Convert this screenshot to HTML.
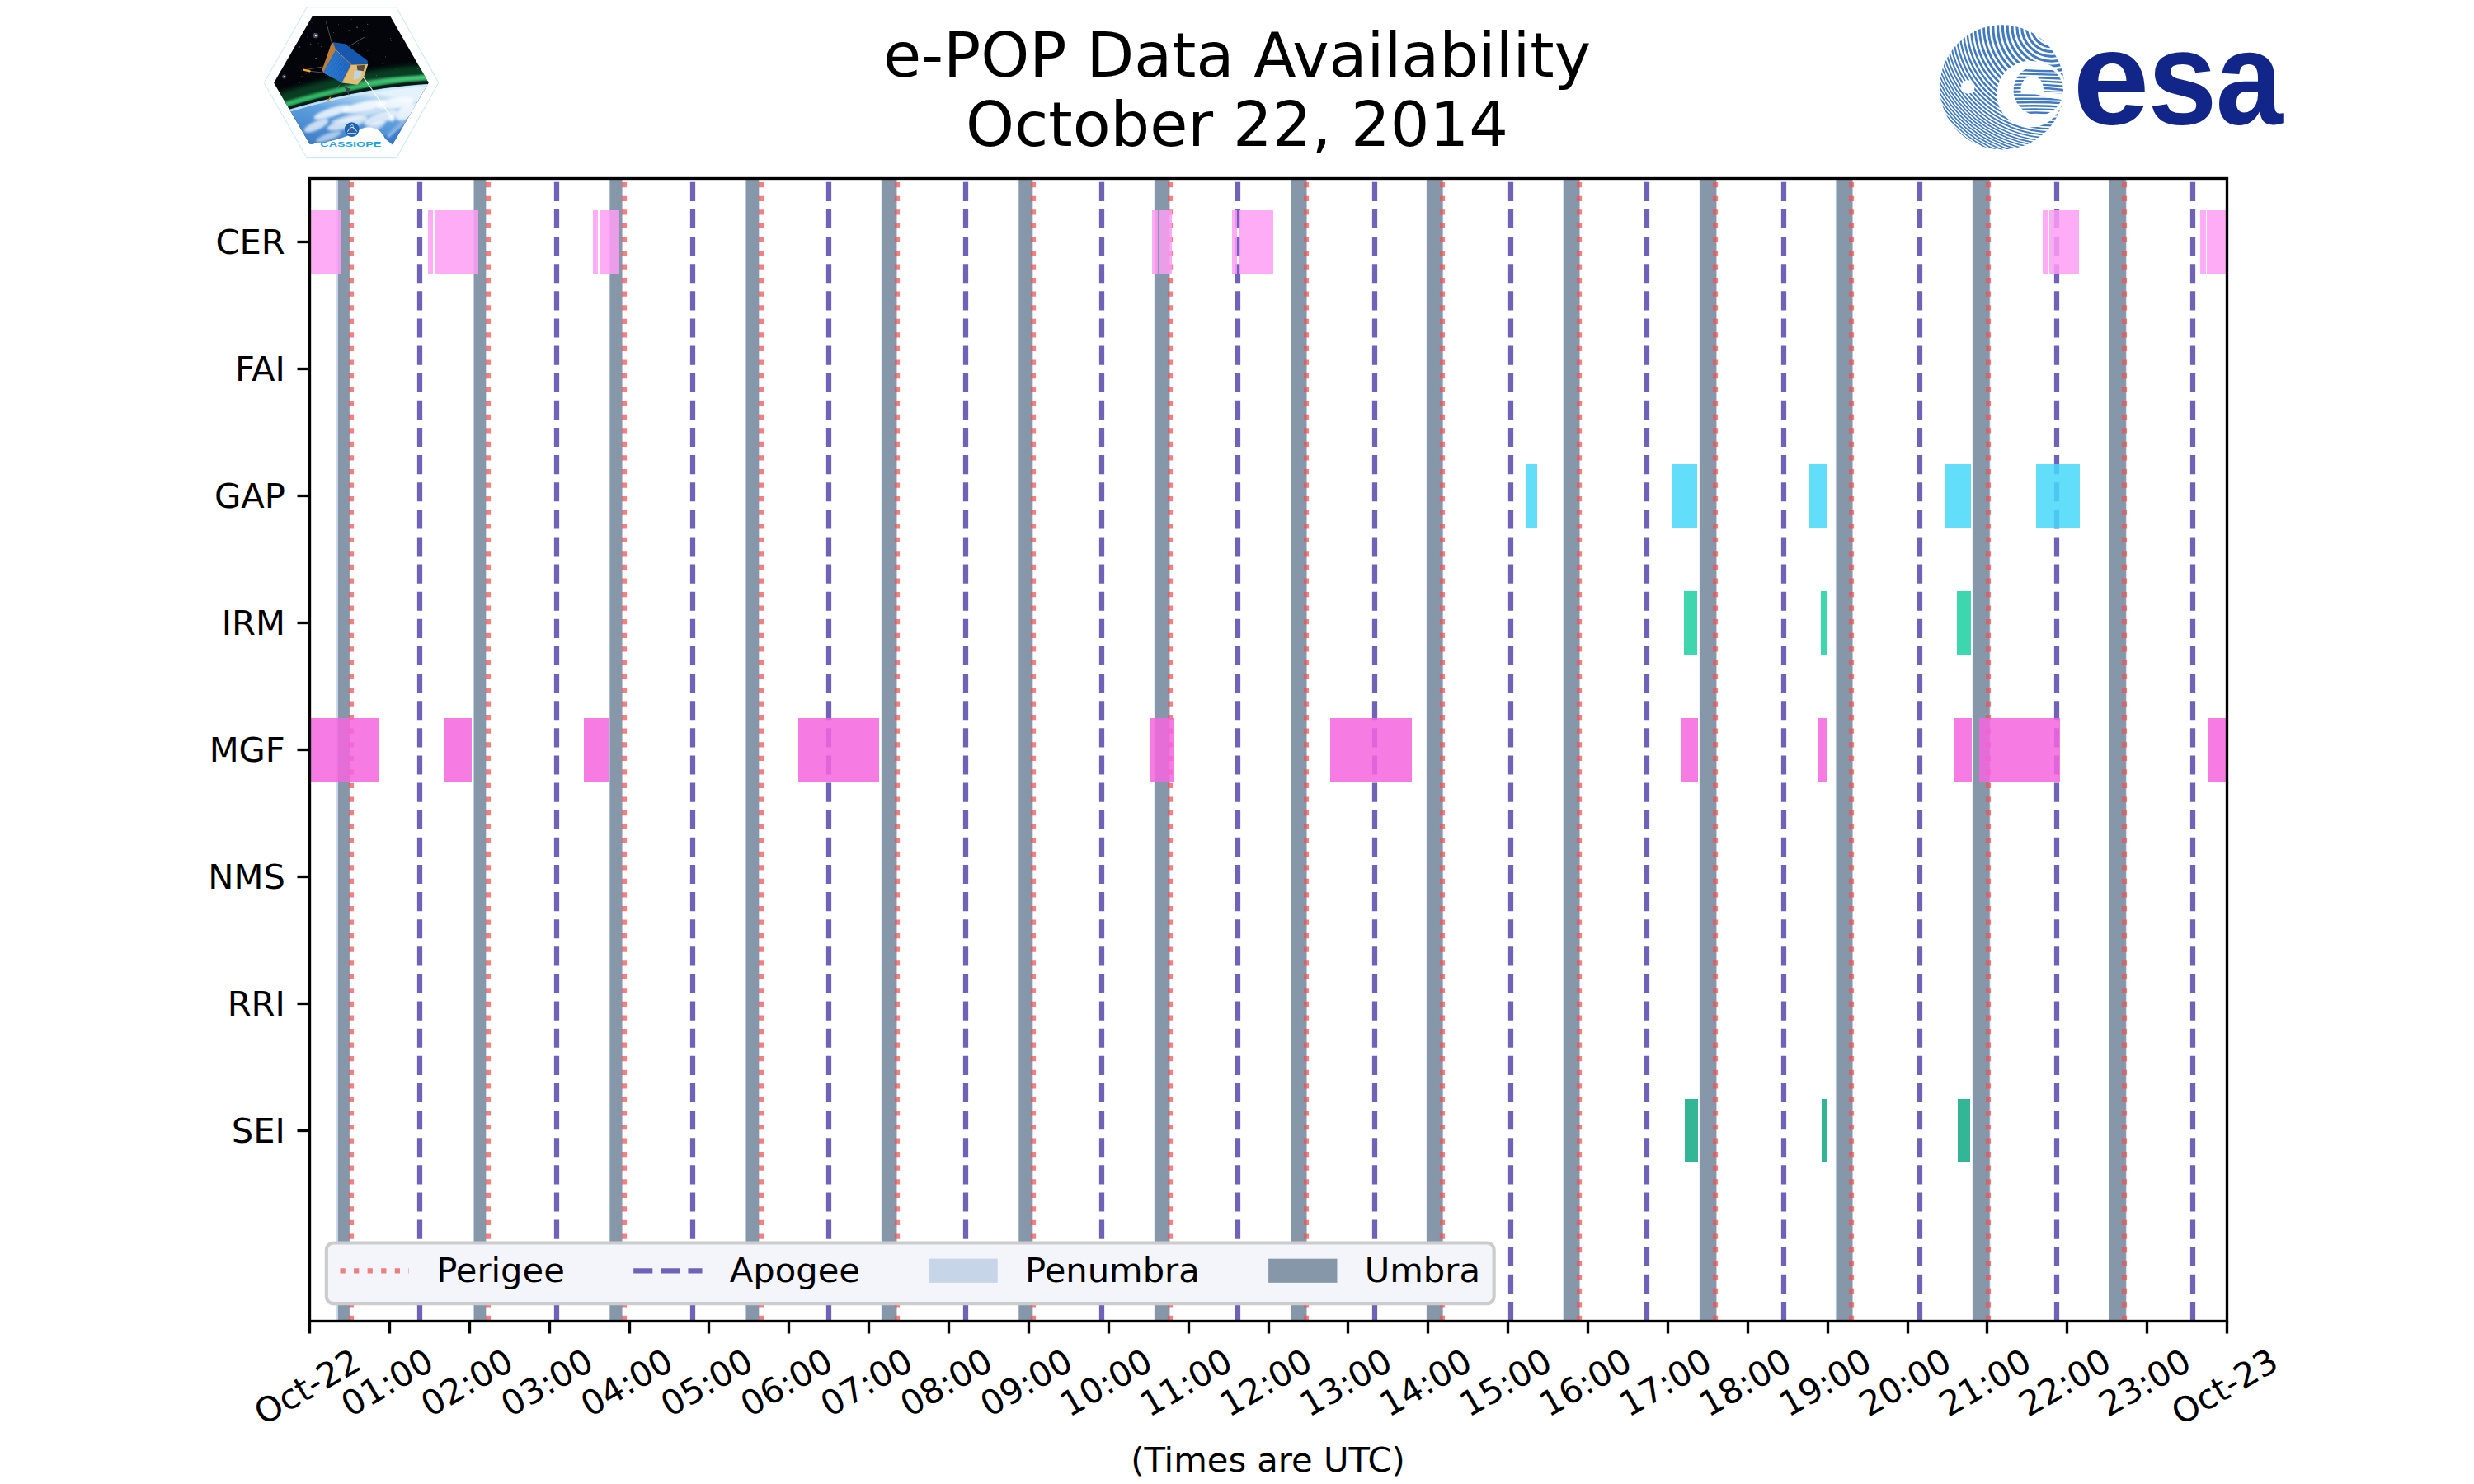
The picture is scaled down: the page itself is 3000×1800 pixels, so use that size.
<!DOCTYPE html>
<html><head><meta charset="utf-8"><title>e-POP Data Availability</title>
<style>html,body{margin:0;padding:0;background:#fff}body{width:3000px;height:1800px;overflow:hidden}</style></head>
<body>
<svg width="3000" height="1800" viewBox="0 0 3000 1800" style="display:block">
<rect x="0" y="0" width="3000" height="1800" fill="#fff"/>
<clipPath id="ax"><rect x="375.0" y="216.0" width="2325.0" height="1386.0"/></clipPath>
<g clip-path="url(#ax)">
<rect x="408.10" y="216.0" width="16.70" height="1386.0" fill="rgb(198,213,232)"/>
<rect x="573.90" y="216.0" width="15.90" height="1386.0" fill="rgb(198,213,232)"/>
<rect x="738.60" y="216.0" width="16.40" height="1386.0" fill="rgb(198,213,232)"/>
<rect x="903.80" y="216.0" width="17.00" height="1386.0" fill="rgb(198,213,232)"/>
<rect x="1068.60" y="216.0" width="19.30" height="1386.0" fill="rgb(198,213,232)"/>
<rect x="1234.50" y="216.0" width="18.30" height="1386.0" fill="rgb(198,213,232)"/>
<rect x="1399.70" y="216.0" width="19.20" height="1386.0" fill="rgb(198,213,232)"/>
<rect x="1565.00" y="216.0" width="20.00" height="1386.0" fill="rgb(198,213,232)"/>
<rect x="1729.70" y="216.0" width="20.50" height="1386.0" fill="rgb(198,213,232)"/>
<rect x="1895.30" y="216.0" width="20.70" height="1386.0" fill="rgb(198,213,232)"/>
<rect x="2060.70" y="216.0" width="21.20" height="1386.0" fill="rgb(198,213,232)"/>
<rect x="2225.80" y="216.0" width="21.20" height="1386.0" fill="rgb(198,213,232)"/>
<rect x="2391.70" y="216.0" width="21.70" height="1386.0" fill="rgb(198,213,232)"/>
<rect x="2556.90" y="216.0" width="21.80" height="1386.0" fill="rgb(198,213,232)"/>
<rect x="410.00" y="216.0" width="13.80" height="1386.0" fill="rgb(134,151,170)"/>
<rect x="574.90" y="216.0" width="14.10" height="1386.0" fill="rgb(134,151,170)"/>
<rect x="739.60" y="216.0" width="14.60" height="1386.0" fill="rgb(134,151,170)"/>
<rect x="904.80" y="216.0" width="15.20" height="1386.0" fill="rgb(134,151,170)"/>
<rect x="1069.60" y="216.0" width="17.50" height="1386.0" fill="rgb(134,151,170)"/>
<rect x="1235.50" y="216.0" width="16.50" height="1386.0" fill="rgb(134,151,170)"/>
<rect x="1400.70" y="216.0" width="17.40" height="1386.0" fill="rgb(134,151,170)"/>
<rect x="1566.00" y="216.0" width="18.20" height="1386.0" fill="rgb(134,151,170)"/>
<rect x="1730.70" y="216.0" width="18.70" height="1386.0" fill="rgb(134,151,170)"/>
<rect x="1896.30" y="216.0" width="18.90" height="1386.0" fill="rgb(134,151,170)"/>
<rect x="2061.70" y="216.0" width="19.40" height="1386.0" fill="rgb(134,151,170)"/>
<rect x="2226.80" y="216.0" width="19.40" height="1386.0" fill="rgb(134,151,170)"/>
<rect x="2392.70" y="216.0" width="19.90" height="1386.0" fill="rgb(134,151,170)"/>
<rect x="2557.90" y="216.0" width="20.00" height="1386.0" fill="rgb(134,151,170)"/>
<line x1="426" y1="1602.0" x2="426" y2="216.0" stroke="rgb(234,84,84)" stroke-opacity="0.73" stroke-width="6.25" stroke-dasharray="6.250 10.312"/>
<line x1="592" y1="1602.0" x2="592" y2="216.0" stroke="rgb(234,84,84)" stroke-opacity="0.73" stroke-width="6.25" stroke-dasharray="6.250 10.312"/>
<line x1="757" y1="1602.0" x2="757" y2="216.0" stroke="rgb(234,84,84)" stroke-opacity="0.73" stroke-width="6.25" stroke-dasharray="6.250 10.312"/>
<line x1="923" y1="1602.0" x2="923" y2="216.0" stroke="rgb(234,84,84)" stroke-opacity="0.73" stroke-width="6.25" stroke-dasharray="6.250 10.312"/>
<line x1="1088" y1="1602.0" x2="1088" y2="216.0" stroke="rgb(234,84,84)" stroke-opacity="0.73" stroke-width="6.25" stroke-dasharray="6.250 10.312"/>
<line x1="1253" y1="1602.0" x2="1253" y2="216.0" stroke="rgb(234,84,84)" stroke-opacity="0.73" stroke-width="6.25" stroke-dasharray="6.250 10.312"/>
<line x1="1419" y1="1602.0" x2="1419" y2="216.0" stroke="rgb(234,84,84)" stroke-opacity="0.73" stroke-width="6.25" stroke-dasharray="6.250 10.312"/>
<line x1="1584" y1="1602.0" x2="1584" y2="216.0" stroke="rgb(234,84,84)" stroke-opacity="0.73" stroke-width="6.25" stroke-dasharray="6.250 10.312"/>
<line x1="1749" y1="1602.0" x2="1749" y2="216.0" stroke="rgb(234,84,84)" stroke-opacity="0.73" stroke-width="6.25" stroke-dasharray="6.250 10.312"/>
<line x1="1915" y1="1602.0" x2="1915" y2="216.0" stroke="rgb(234,84,84)" stroke-opacity="0.73" stroke-width="6.25" stroke-dasharray="6.250 10.312"/>
<line x1="2080" y1="1602.0" x2="2080" y2="216.0" stroke="rgb(234,84,84)" stroke-opacity="0.73" stroke-width="6.25" stroke-dasharray="6.250 10.312"/>
<line x1="2245" y1="1602.0" x2="2245" y2="216.0" stroke="rgb(234,84,84)" stroke-opacity="0.73" stroke-width="6.25" stroke-dasharray="6.250 10.312"/>
<line x1="2411" y1="1602.0" x2="2411" y2="216.0" stroke="rgb(234,84,84)" stroke-opacity="0.73" stroke-width="6.25" stroke-dasharray="6.250 10.312"/>
<line x1="2576" y1="1602.0" x2="2576" y2="216.0" stroke="rgb(234,84,84)" stroke-opacity="0.73" stroke-width="6.25" stroke-dasharray="6.250 10.312"/>
<line x1="509" y1="1602.0" x2="509" y2="216.0" stroke="rgb(113,98,185)" stroke-width="6.25" stroke-dasharray="23.125 10.000"/>
<line x1="675" y1="1602.0" x2="675" y2="216.0" stroke="rgb(113,98,185)" stroke-width="6.25" stroke-dasharray="23.125 10.000"/>
<line x1="840" y1="1602.0" x2="840" y2="216.0" stroke="rgb(113,98,185)" stroke-width="6.25" stroke-dasharray="23.125 10.000"/>
<line x1="1005" y1="1602.0" x2="1005" y2="216.0" stroke="rgb(113,98,185)" stroke-width="6.25" stroke-dasharray="23.125 10.000"/>
<line x1="1171" y1="1602.0" x2="1171" y2="216.0" stroke="rgb(113,98,185)" stroke-width="6.25" stroke-dasharray="23.125 10.000"/>
<line x1="1336" y1="1602.0" x2="1336" y2="216.0" stroke="rgb(113,98,185)" stroke-width="6.25" stroke-dasharray="23.125 10.000"/>
<line x1="1501" y1="1602.0" x2="1501" y2="216.0" stroke="rgb(113,98,185)" stroke-width="6.25" stroke-dasharray="23.125 10.000"/>
<line x1="1667" y1="1602.0" x2="1667" y2="216.0" stroke="rgb(113,98,185)" stroke-width="6.25" stroke-dasharray="23.125 10.000"/>
<line x1="1832" y1="1602.0" x2="1832" y2="216.0" stroke="rgb(113,98,185)" stroke-width="6.25" stroke-dasharray="23.125 10.000"/>
<line x1="1997" y1="1602.0" x2="1997" y2="216.0" stroke="rgb(113,98,185)" stroke-width="6.25" stroke-dasharray="23.125 10.000"/>
<line x1="2163" y1="1602.0" x2="2163" y2="216.0" stroke="rgb(113,98,185)" stroke-width="6.25" stroke-dasharray="23.125 10.000"/>
<line x1="2328" y1="1602.0" x2="2328" y2="216.0" stroke="rgb(113,98,185)" stroke-width="6.25" stroke-dasharray="23.125 10.000"/>
<line x1="2494" y1="1602.0" x2="2494" y2="216.0" stroke="rgb(113,98,185)" stroke-width="6.25" stroke-dasharray="23.125 10.000"/>
<line x1="2659" y1="1602.0" x2="2659" y2="216.0" stroke="rgb(113,98,185)" stroke-width="6.25" stroke-dasharray="23.125 10.000"/>
<rect x="375.00" y="255.00" width="39.00" height="77.00" fill="rgb(254,157,244)" fill-opacity="0.85"/>
<rect x="519.00" y="255.00" width="6.00" height="77.00" fill="rgb(254,157,244)" fill-opacity="0.85"/>
<rect x="527.00" y="255.00" width="53.00" height="77.00" fill="rgb(254,157,244)" fill-opacity="0.85"/>
<rect x="719.00" y="255.00" width="6.00" height="77.00" fill="rgb(254,157,244)" fill-opacity="0.85"/>
<rect x="727.00" y="255.00" width="24.00" height="77.00" fill="rgb(254,157,244)" fill-opacity="0.85"/>
<rect x="1397.00" y="255.00" width="7.00" height="77.00" fill="rgb(254,157,244)" fill-opacity="0.85"/>
<rect x="1405.00" y="255.00" width="16.00" height="77.00" fill="rgb(254,157,244)" fill-opacity="0.85"/>
<rect x="1494.00" y="255.00" width="6.00" height="77.00" fill="rgb(254,157,244)" fill-opacity="0.85"/>
<rect x="1502.00" y="255.00" width="42.00" height="77.00" fill="rgb(254,157,244)" fill-opacity="0.85"/>
<rect x="2477.00" y="255.00" width="7.00" height="77.00" fill="rgb(254,157,244)" fill-opacity="0.85"/>
<rect x="2485.00" y="255.00" width="36.00" height="77.00" fill="rgb(254,157,244)" fill-opacity="0.85"/>
<rect x="2668.00" y="255.00" width="7.00" height="77.00" fill="rgb(254,157,244)" fill-opacity="0.85"/>
<rect x="2676.00" y="255.00" width="24.00" height="77.00" fill="rgb(254,157,244)" fill-opacity="0.85"/>
<rect x="1850.00" y="563.00" width="14.00" height="77.00" fill="rgb(70,216,249)" fill-opacity="0.85"/>
<rect x="2028.00" y="563.00" width="30.00" height="77.00" fill="rgb(70,216,249)" fill-opacity="0.85"/>
<rect x="2194.00" y="563.00" width="22.00" height="77.00" fill="rgb(70,216,249)" fill-opacity="0.85"/>
<rect x="2359.00" y="563.00" width="31.00" height="77.00" fill="rgb(70,216,249)" fill-opacity="0.85"/>
<rect x="2469.00" y="563.00" width="53.00" height="77.00" fill="rgb(70,216,249)" fill-opacity="0.85"/>
<rect x="2042.00" y="717.00" width="16.00" height="77.00" fill="rgb(28,207,160)" fill-opacity="0.85"/>
<rect x="2208.00" y="717.00" width="8.00" height="77.00" fill="rgb(28,207,160)" fill-opacity="0.85"/>
<rect x="2373.00" y="717.00" width="17.00" height="77.00" fill="rgb(28,207,160)" fill-opacity="0.85"/>
<rect x="375.00" y="871.00" width="84.00" height="77.00" fill="rgb(244,101,223)" fill-opacity="0.85"/>
<rect x="538.00" y="871.00" width="34.00" height="77.00" fill="rgb(244,101,223)" fill-opacity="0.85"/>
<rect x="708.00" y="871.00" width="30.00" height="77.00" fill="rgb(244,101,223)" fill-opacity="0.85"/>
<rect x="968.00" y="871.00" width="98.00" height="77.00" fill="rgb(244,101,223)" fill-opacity="0.85"/>
<rect x="1395.00" y="871.00" width="29.00" height="77.00" fill="rgb(244,101,223)" fill-opacity="0.85"/>
<rect x="1613.00" y="871.00" width="99.00" height="77.00" fill="rgb(244,101,223)" fill-opacity="0.85"/>
<rect x="2038.00" y="871.00" width="21.00" height="77.00" fill="rgb(244,101,223)" fill-opacity="0.85"/>
<rect x="2205.00" y="871.00" width="11.00" height="77.00" fill="rgb(244,101,223)" fill-opacity="0.85"/>
<rect x="2370.00" y="871.00" width="21.00" height="77.00" fill="rgb(244,101,223)" fill-opacity="0.85"/>
<rect x="2400.00" y="871.00" width="98.00" height="77.00" fill="rgb(244,101,223)" fill-opacity="0.85"/>
<rect x="2677.00" y="871.00" width="23.00" height="77.00" fill="rgb(244,101,223)" fill-opacity="0.85"/>
<rect x="2043.00" y="1333.00" width="16.00" height="77.00" fill="rgb(14,169,131)" fill-opacity="0.85"/>
<rect x="2209.00" y="1333.00" width="7.00" height="77.00" fill="rgb(14,169,131)" fill-opacity="0.85"/>
<rect x="2374.00" y="1333.00" width="15.00" height="77.00" fill="rgb(14,169,131)" fill-opacity="0.85"/>
</g>
<rect x="375.5" y="216.5" width="2325" height="1386" fill="none" stroke="#000" stroke-width="3.33" stroke-linejoin="miter"/>
<g stroke="#000" stroke-width="3.33" fill="none">
<line x1="375.50" y1="1602.0" x2="375.50" y2="1617.5"/>
<line x1="472.50" y1="1602.0" x2="472.50" y2="1617.5"/>
<line x1="569.50" y1="1602.0" x2="569.50" y2="1617.5"/>
<line x1="666.50" y1="1602.0" x2="666.50" y2="1617.5"/>
<line x1="763.50" y1="1602.0" x2="763.50" y2="1617.5"/>
<line x1="859.50" y1="1602.0" x2="859.50" y2="1617.5"/>
<line x1="956.50" y1="1602.0" x2="956.50" y2="1617.5"/>
<line x1="1053.50" y1="1602.0" x2="1053.50" y2="1617.5"/>
<line x1="1150.50" y1="1602.0" x2="1150.50" y2="1617.5"/>
<line x1="1247.50" y1="1602.0" x2="1247.50" y2="1617.5"/>
<line x1="1344.50" y1="1602.0" x2="1344.50" y2="1617.5"/>
<line x1="1441.50" y1="1602.0" x2="1441.50" y2="1617.5"/>
<line x1="1538.50" y1="1602.0" x2="1538.50" y2="1617.5"/>
<line x1="1634.50" y1="1602.0" x2="1634.50" y2="1617.5"/>
<line x1="1731.50" y1="1602.0" x2="1731.50" y2="1617.5"/>
<line x1="1828.50" y1="1602.0" x2="1828.50" y2="1617.5"/>
<line x1="1925.50" y1="1602.0" x2="1925.50" y2="1617.5"/>
<line x1="2022.50" y1="1602.0" x2="2022.50" y2="1617.5"/>
<line x1="2119.50" y1="1602.0" x2="2119.50" y2="1617.5"/>
<line x1="2216.50" y1="1602.0" x2="2216.50" y2="1617.5"/>
<line x1="2313.50" y1="1602.0" x2="2313.50" y2="1617.5"/>
<line x1="2409.50" y1="1602.0" x2="2409.50" y2="1617.5"/>
<line x1="2506.50" y1="1602.0" x2="2506.50" y2="1617.5"/>
<line x1="2603.50" y1="1602.0" x2="2603.50" y2="1617.5"/>
<line x1="2700.50" y1="1602.0" x2="2700.50" y2="1617.5"/>
<line x1="360.5" y1="293.50" x2="375.0" y2="293.50"/>
<line x1="360.5" y1="447.50" x2="375.0" y2="447.50"/>
<line x1="360.5" y1="601.50" x2="375.0" y2="601.50"/>
<line x1="360.5" y1="755.50" x2="375.0" y2="755.50"/>
<line x1="360.5" y1="909.50" x2="375.0" y2="909.50"/>
<line x1="360.5" y1="1063.50" x2="375.0" y2="1063.50"/>
<line x1="360.5" y1="1217.50" x2="375.0" y2="1217.50"/>
<line x1="360.5" y1="1371.50" x2="375.0" y2="1371.50"/>
</g>
<g font-family='"DejaVu Sans","Liberation Sans",sans-serif' fill="#000">
<text x="345.83" y="307.93" font-size="41.667" text-anchor="end">CER</text>
<text x="345.83" y="461.93" font-size="41.667" text-anchor="end">FAI</text>
<text x="345.83" y="615.93" font-size="41.667" text-anchor="end">GAP</text>
<text x="345.83" y="769.93" font-size="41.667" text-anchor="end">IRM</text>
<text x="345.83" y="923.93" font-size="41.667" text-anchor="end">MGF</text>
<text x="345.83" y="1077.93" font-size="41.667" text-anchor="end">NMS</text>
<text x="345.83" y="1231.93" font-size="41.667" text-anchor="end">RRI</text>
<text x="345.83" y="1385.93" font-size="41.667" text-anchor="end">SEI</text>
<text transform="translate(319.18 1729.63) rotate(-30)" font-size="41.667">Oct-22</text>
<text transform="translate(424.73 1719.62) rotate(-30)" font-size="41.667">01:00</text>
<text transform="translate(521.60 1719.62) rotate(-30)" font-size="41.667">02:00</text>
<text transform="translate(618.48 1719.62) rotate(-30)" font-size="41.667">03:00</text>
<text transform="translate(715.35 1719.62) rotate(-30)" font-size="41.667">04:00</text>
<text transform="translate(812.23 1719.62) rotate(-30)" font-size="41.667">05:00</text>
<text transform="translate(909.10 1719.62) rotate(-30)" font-size="41.667">06:00</text>
<text transform="translate(1005.98 1719.62) rotate(-30)" font-size="41.667">07:00</text>
<text transform="translate(1102.85 1719.62) rotate(-30)" font-size="41.667">08:00</text>
<text transform="translate(1199.73 1719.62) rotate(-30)" font-size="41.667">09:00</text>
<text transform="translate(1296.60 1719.62) rotate(-30)" font-size="41.667">10:00</text>
<text transform="translate(1393.48 1719.62) rotate(-30)" font-size="41.667">11:00</text>
<text transform="translate(1490.35 1719.62) rotate(-30)" font-size="41.667">12:00</text>
<text transform="translate(1587.23 1719.62) rotate(-30)" font-size="41.667">13:00</text>
<text transform="translate(1684.10 1719.62) rotate(-30)" font-size="41.667">14:00</text>
<text transform="translate(1780.98 1719.62) rotate(-30)" font-size="41.667">15:00</text>
<text transform="translate(1877.85 1719.62) rotate(-30)" font-size="41.667">16:00</text>
<text transform="translate(1974.73 1719.62) rotate(-30)" font-size="41.667">17:00</text>
<text transform="translate(2071.60 1719.62) rotate(-30)" font-size="41.667">18:00</text>
<text transform="translate(2168.48 1719.62) rotate(-30)" font-size="41.667">19:00</text>
<text transform="translate(2265.35 1719.62) rotate(-30)" font-size="41.667">20:00</text>
<text transform="translate(2362.23 1719.62) rotate(-30)" font-size="41.667">21:00</text>
<text transform="translate(2459.10 1719.62) rotate(-30)" font-size="41.667">22:00</text>
<text transform="translate(2555.98 1719.62) rotate(-30)" font-size="41.667">23:00</text>
<text transform="translate(2644.18 1729.63) rotate(-30)" font-size="41.667">Oct-23</text>
<text x="1537.50" y="1785.07" font-size="41.667" text-anchor="middle">(Times are UTC)</text>
<text x="1070.88" y="92.99" font-size="75.000">e-POP Data Availability</text>
<text x="1171.01" y="176.97" font-size="75.000">October 22, 2014</text>
</g>
<rect x="395.83" y="1507.51" width="1415.82" height="73.66" rx="8.33" fill="rgb(244,245,250)" stroke="rgb(204,204,204)" stroke-width="4.17"/>
<line x1="412.50" y1="1541.25" x2="495.83" y2="1541.25" stroke="rgb(234,84,84)" stroke-opacity="0.73" stroke-width="6.25" stroke-dasharray="6.250 10.312"/>
<line x1="768.18" y1="1541.25" x2="851.52" y2="1541.25" stroke="rgb(113,98,185)" stroke-width="6.25" stroke-dasharray="23.125 10.000"/>
<rect x="1126.36" y="1526.67" width="83.33" height="29.17" fill="rgb(198,213,232)"/>
<rect x="1538.13" y="1526.67" width="83.33" height="29.17" fill="rgb(134,151,170)"/>
<g font-family='"DejaVu Sans","Liberation Sans",sans-serif' fill="#000" font-size="41.667">
<text x="529.17" y="1554.93">Perigee</text>
<text x="884.85" y="1554.93">Apogee</text>
<text x="1243.03" y="1554.93">Penumbra</text>
<text x="1654.79" y="1554.93">Umbra</text>
</g>
<g transform="translate(300 0) scale(0.13479)">
<defs><clipPath id="hexin"><polygon points="238,745 585,145 1285,145 1630,745 1305,1300 560,1295"/></clipPath><filter id="bl25" x="-30%" y="-30%" width="160%" height="160%"><feGaussianBlur stdDeviation="22"/></filter><filter id="bl10" x="-30%" y="-30%" width="160%" height="160%"><feGaussianBlur stdDeviation="10"/></filter><filter id="bl4" x="-30%" y="-30%" width="160%" height="160%"><feGaussianBlur stdDeviation="4"/></filter><linearGradient id="earthg" gradientUnits="userSpaceOnUse" x1="1000" y1="800" x2="900" y2="1350"><stop offset="0" stop-color="rgb(228,242,252)"/><stop offset="0.12" stop-color="rgb(170,210,240)"/><stop offset="0.4" stop-color="rgb(95,160,222)"/><stop offset="1" stop-color="rgb(60,125,200)"/></linearGradient><linearGradient id="panelg" x1="0" y1="0" x2="1" y2="0"><stop offset="0" stop-color="rgb(40,120,205)"/><stop offset="1" stop-color="rgb(25,95,185)"/></linearGradient></defs>
<polygon points="150,745 535,65 1340,65 1720,745 1340,1422 535,1422" fill="#fff" stroke="rgb(190,230,236)" stroke-width="7"/>
<g clip-path="url(#hexin)">
<rect x="200" y="100" width="1500" height="1250" fill="rgb(3,5,10)"/>
<circle cx="615" cy="320" r="23.400000000000002" fill="rgb(200,200,255)" opacity="0.35" filter="url(#bl4)"/>
<circle cx="615" cy="320" r="7.8" fill="#fff"/>
<circle cx="330" cy="690" r="18.0" fill="rgb(190,190,255)" opacity="0.35" filter="url(#bl4)"/>
<circle cx="330" cy="690" r="6.0" fill="#fff"/>
<circle cx="721" cy="248" r="2.5" fill="rgb(215,220,235)" opacity="0.49"/>
<circle cx="997" cy="388" r="2.5" fill="rgb(215,220,235)" opacity="0.90"/>
<circle cx="579" cy="206" r="3.5" fill="rgb(215,220,235)" opacity="0.48"/>
<circle cx="418" cy="426" r="4.5" fill="rgb(215,220,235)" opacity="0.51"/>
<circle cx="590" cy="558" r="2.5" fill="rgb(215,220,235)" opacity="0.74"/>
<circle cx="816" cy="785" r="2.5" fill="rgb(215,220,235)" opacity="0.73"/>
<circle cx="473" cy="422" r="4.5" fill="rgb(215,220,235)" opacity="0.51"/>
<circle cx="701" cy="680" r="3" fill="rgb(215,220,235)" opacity="0.50"/>
<circle cx="1043" cy="272" r="2.5" fill="rgb(215,220,235)" opacity="0.72"/>
<circle cx="382" cy="189" r="3" fill="rgb(215,220,235)" opacity="0.70"/>
<circle cx="991" cy="655" r="3.5" fill="rgb(215,220,235)" opacity="0.74"/>
<circle cx="889" cy="345" r="3" fill="rgb(215,220,235)" opacity="0.80"/>
<circle cx="617" cy="523" r="4.5" fill="rgb(215,220,235)" opacity="0.70"/>
<circle cx="747" cy="442" r="4.5" fill="rgb(215,220,235)" opacity="0.94"/>
<circle cx="453" cy="422" r="3" fill="rgb(215,220,235)" opacity="0.53"/>
<circle cx="936" cy="175" r="2.5" fill="rgb(215,220,235)" opacity="0.83"/>
<circle cx="1045" cy="719" r="3" fill="rgb(215,220,235)" opacity="0.62"/>
<circle cx="755" cy="473" r="3.5" fill="rgb(215,220,235)" opacity="0.48"/>
<circle cx="422" cy="325" r="2.5" fill="rgb(215,220,235)" opacity="0.48"/>
<circle cx="1212" cy="571" r="3.5" fill="rgb(215,220,235)" opacity="0.59"/>
<circle cx="802" cy="585" r="2.5" fill="rgb(215,220,235)" opacity="0.92"/>
<circle cx="762" cy="547" r="3.5" fill="rgb(215,220,235)" opacity="0.48"/>
<circle cx="1299" cy="234" r="3" fill="rgb(215,220,235)" opacity="0.65"/>
<circle cx="1492" cy="473" r="3" fill="rgb(215,220,235)" opacity="0.67"/>
<circle cx="1014" cy="724" r="3.5" fill="rgb(215,220,235)" opacity="0.88"/>
<circle cx="662" cy="420" r="3" fill="rgb(215,220,235)" opacity="0.79"/>
<circle cx="795" cy="300" r="2.5" fill="rgb(215,220,235)" opacity="0.54"/>
<circle cx="602" cy="302" r="3.5" fill="rgb(215,220,235)" opacity="0.87"/>
<circle cx="537" cy="333" r="3" fill="rgb(215,220,235)" opacity="0.66"/>
<circle cx="780" cy="518" r="3" fill="rgb(215,220,235)" opacity="0.80"/>
<circle cx="970" cy="551" r="2.5" fill="rgb(215,220,235)" opacity="0.68"/>
<circle cx="1432" cy="769" r="4.5" fill="rgb(215,220,235)" opacity="0.65"/>
<circle cx="819" cy="217" r="3.5" fill="rgb(215,220,235)" opacity="0.48"/>
<circle cx="388" cy="286" r="3" fill="rgb(215,220,235)" opacity="0.50"/>
<circle cx="1081" cy="217" r="4.5" fill="rgb(215,220,235)" opacity="0.53"/>
<circle cx="432" cy="386" r="2.5" fill="rgb(215,220,235)" opacity="0.49"/>
<circle cx="570" cy="395" r="3" fill="rgb(215,220,235)" opacity="0.93"/>
<circle cx="1083" cy="458" r="2.5" fill="rgb(215,220,235)" opacity="0.87"/>
<circle cx="1591" cy="453" r="3.5" fill="rgb(215,220,235)" opacity="0.61"/>
<circle cx="487" cy="637" r="3" fill="rgb(215,220,235)" opacity="0.69"/>
<circle cx="1200" cy="486" r="3" fill="rgb(215,220,235)" opacity="0.93"/>
<circle cx="987" cy="245" r="4.5" fill="rgb(215,220,235)" opacity="0.91"/>
<circle cx="1286" cy="344" r="2.5" fill="rgb(215,220,235)" opacity="0.80"/>
<circle cx="639" cy="388" r="3" fill="rgb(215,220,235)" opacity="0.63"/>
<circle cx="590" cy="502" r="4.5" fill="rgb(215,220,235)" opacity="0.61"/>
<circle cx="590" cy="677" r="3" fill="rgb(215,220,235)" opacity="0.85"/>
<circle cx="1364" cy="631" r="3" fill="rgb(215,220,235)" opacity="0.55"/>
<circle cx="941" cy="625" r="2.5" fill="rgb(215,220,235)" opacity="0.85"/>
<circle cx="914" cy="276" r="4.5" fill="rgb(215,220,235)" opacity="0.93"/>
<circle cx="881" cy="759" r="3" fill="rgb(215,220,235)" opacity="0.93"/>
<circle cx="774" cy="293" r="3" fill="rgb(215,220,235)" opacity="0.69"/>
<circle cx="739" cy="464" r="4.5" fill="rgb(215,220,235)" opacity="0.87"/>
<circle cx="923" cy="574" r="2.5" fill="rgb(215,220,235)" opacity="0.87"/>
<circle cx="456" cy="403" r="3" fill="rgb(215,220,235)" opacity="0.69"/>
<circle cx="532" cy="663" r="3" fill="rgb(215,220,235)" opacity="0.49"/>
<circle cx="1530" cy="619" r="3.5" fill="rgb(215,220,235)" opacity="0.65"/>
<circle cx="1531" cy="621" r="3" fill="rgb(215,220,235)" opacity="0.95"/>
<circle cx="336" cy="534" r="3.5" fill="rgb(215,220,235)" opacity="0.85"/>
<circle cx="490" cy="687" r="3.5" fill="rgb(215,220,235)" opacity="0.78"/>
<circle cx="756" cy="507" r="3" fill="rgb(215,220,235)" opacity="0.46"/>
<circle cx="1339" cy="622" r="2.5" fill="rgb(215,220,235)" opacity="0.71"/>
<circle cx="1514" cy="432" r="3" fill="rgb(215,220,235)" opacity="0.86"/>
<circle cx="574" cy="314" r="3" fill="rgb(215,220,235)" opacity="0.70"/>
<circle cx="1293" cy="362" r="4.5" fill="rgb(215,220,235)" opacity="0.66"/>
<circle cx="470" cy="742" r="3" fill="rgb(215,220,235)" opacity="0.90"/>
<circle cx="1161" cy="680" r="4.5" fill="rgb(215,220,235)" opacity="0.66"/>
<circle cx="1493" cy="476" r="4.5" fill="rgb(215,220,235)" opacity="0.53"/>
<circle cx="964" cy="717" r="3" fill="rgb(215,220,235)" opacity="0.75"/>
<circle cx="1309" cy="247" r="3" fill="rgb(215,220,235)" opacity="0.69"/>
<circle cx="1243" cy="512" r="3" fill="rgb(215,220,235)" opacity="0.79"/>
<path d="M 200,1048 Q 990,786 1700,757" transform="translate(0 -105)" fill="none" stroke="rgb(12,95,50)" stroke-width="150" opacity="0.65" filter="url(#bl25)"/>
<path d="M 200,1048 Q 990,786 1700,757" transform="translate(0 -62)" fill="none" stroke="rgb(55,200,110)" stroke-width="48" opacity="0.9" filter="url(#bl10)"/>
<path d="M 1000,745 Q 1350,700 1700,690" fill="none" stroke="rgb(90,215,140)" stroke-width="30" opacity="0.55" filter="url(#bl10)"/>
<path d="M 200,1048 Q 990,786 1700,757" transform="translate(0 -20)" fill="none" stroke="rgb(4,28,30)" stroke-width="26" opacity="0.8" filter="url(#bl4)"/>
<path d="M 200,1048 Q 990,786 1700,757 L 1700,1400 L 200,1400 Z" fill="url(#earthg)"/>
<path d="M 200,1052 Q 990,792 1700,763" fill="none" stroke="rgb(205,232,250)" stroke-width="22" opacity="0.85" filter="url(#bl4)"/>
<ellipse cx="760" cy="1010" rx="170" ry="40" transform="rotate(-18 760 1010)" fill="#fff" opacity="0.8" filter="url(#bl10)"/>
<ellipse cx="1050" cy="960" rx="200" ry="45" transform="rotate(-12 1050 960)" fill="#fff" opacity="0.85" filter="url(#bl10)"/>
<ellipse cx="1330" cy="930" rx="170" ry="50" transform="rotate(-8 1330 930)" fill="#fff" opacity="0.8" filter="url(#bl10)"/>
<ellipse cx="900" cy="1110" rx="190" ry="45" transform="rotate(-15 900 1110)" fill="#fff" opacity="0.7" filter="url(#bl10)"/>
<ellipse cx="1200" cy="1060" rx="160" ry="50" transform="rotate(-20 1200 1060)" fill="#fff" opacity="0.75" filter="url(#bl10)"/>
<ellipse cx="620" cy="1130" rx="120" ry="40" transform="rotate(-25 620 1130)" fill="#fff" opacity="0.7" filter="url(#bl10)"/>
<ellipse cx="1430" cy="1010" rx="110" ry="60" transform="rotate(-30 1430 1010)" fill="#fff" opacity="0.8" filter="url(#bl10)"/>
<ellipse cx="1000" cy="1040" rx="260" ry="30" transform="rotate(-14 1000 1040)" fill="#fff" opacity="0.6" filter="url(#bl10)"/>
<ellipse cx="730" cy="1230" rx="120" ry="30" transform="rotate(-20 730 1230)" fill="#fff" opacity="0.55" filter="url(#bl10)"/>
<ellipse cx="1130" cy="1150" rx="120" ry="35" transform="rotate(-25 1130 1150)" fill="#fff" opacity="0.6" filter="url(#bl10)"/>
<path d="M 1440,1060 L 1225,1230 L 1310,1310 L 1500,1000 Z" fill="rgb(50,120,200)" opacity="0.8"/>
<path d="M 1440,1070 L 1260,1230" stroke="#fff" stroke-width="30" opacity="0.5" filter="url(#bl10)"/>
<path d="M 540,1310 L 640,1290 Q 880,1250 990,1175 Q 1100,1115 1190,1180 Q 1225,1215 1240,1250 L 1315,1310 Z" fill="#fff"/>
<path d="M 1040,690 L 1300,1060" stroke="#fff" stroke-width="9" opacity="0.9"/>
<circle cx="1300" cy="1065" r="28" fill="#fff" opacity="0.8" filter="url(#bl10)"/>
<g stroke="rgb(120,115,110)" stroke-width="5" fill="none"><path d="M 708,195 L 760,390"/><path d="M 1055,333 L 915,415"/><path d="M 520,628 L 695,598"/><path d="M 560,640 L 690,655"/><path d="M 728,900 L 832,760"/><path d="M 915,858 L 880,775"/></g>
<path d="M 505,628 L 560,640" stroke="rgb(245,160,40)" stroke-width="18" stroke-linecap="round"/>
<path d="M 725,905 L 745,880" stroke="rgb(230,130,40)" stroke-width="12" stroke-linecap="round"/>
<polygon points="755,392 775,381 799,449 684,654 672,628" fill="rgb(185,125,60)"/>
<polygon points="770,380 880,395 1080,545 1085,578 935,582 795,448" fill="rgb(22,88,175)"/>
<polygon points="795,448 935,582 852,745 680,655" fill="url(#panelg)"/>
<g stroke="rgb(90,160,230)" stroke-width="2.5" opacity="0.8"><path d="M 811,463 L 699,665"/><path d="M 826,478 L 718,675"/><path d="M 842,493 L 737,685"/><path d="M 857,508 L 756,695"/><path d="M 873,522 L 776,705"/><path d="M 888,537 L 795,715"/><path d="M 904,552 L 814,725"/><path d="M 919,567 L 833,735"/></g>
<polygon points="935,582 1085,578 1045,700 990,762 852,745" fill="rgb(225,190,120)"/>
<polygon points="960,640 1030,625 1020,700 955,720" fill="rgb(190,215,235)" opacity="0.9"/>
<polygon points="985,590 1060,585 1045,640 990,632" fill="rgb(70,55,40)" opacity="0.85"/>
<path d="M 795,448 L 935,582 L 852,745" fill="none" stroke="rgb(230,160,70)" stroke-width="6"/>
<path d="M 870,780 L 930,800 L 900,830 Z" fill="rgb(60,70,80)"/>
<circle cx="940" cy="1165" r="66" fill="rgb(28,100,180)"/>
<path d="M 900,1185 Q 940,1105 985,1185" fill="none" stroke="#fff" stroke-width="7"/>
<path d="M 925,1140 L 945,1115 L 955,1150" fill="none" stroke="#fff" stroke-width="5"/>
<circle cx="938" cy="1172" r="7" fill="rgb(220,40,50)"/>
<rect x="900" y="1196" width="80" height="10" fill="#fff" opacity="0.85"/>
</g>
<polygon points="600,1288 1280,1288 1300,1312 590,1312" fill="#fff"/>
<text x="655" y="1322" font-family='"Liberation Sans",sans-serif' font-weight="bold" font-size="61" textLength="550" lengthAdjust="spacingAndGlyphs" fill="rgb(35,165,225)">CASSIOPE</text>
</g>
<defs>
<mask id="esam" maskUnits="userSpaceOnUse" x="2340" y="20" width="180" height="180"><circle cx="2427.7" cy="105.9" r="75.6" fill="#fff"/><circle cx="2461.7" cy="114.2" r="40.4" fill="#000"/><circle cx="2386.3" cy="105.5" r="8.3" fill="#000"/><circle cx="2471.8" cy="109.7" r="33.7" fill="#000"/></mask>
<mask id="esae" maskUnits="userSpaceOnUse" x="2430" y="70" width="90" height="80"><circle cx="2471.8" cy="109.7" r="30.2" fill="#fff"/><path d="M 2450.6,113.6 L 2450.6,108 A 13.65 16 0 0 1 2477.9,108 L 2477.9,110.7 L 2505,110.7 L 2505,113.6 Z" fill="#000"/><path d="M 2466,113.6 L 2505,113.6 L 2505,121.8 L 2484,118.5 Z" fill="#000"/></mask>
</defs>
<g mask="url(#esam)" fill="none" stroke="rgb(66,122,192)">
<circle cx="2488.0" cy="32.0" r="19.00" stroke-width="3.13"/>
<circle cx="2488.0" cy="32.0" r="24.80" stroke-width="3.13"/>
<circle cx="2488.0" cy="32.0" r="30.60" stroke-width="3.13"/>
<circle cx="2488.0" cy="32.0" r="36.40" stroke-width="3.13"/>
<circle cx="2488.0" cy="32.0" r="42.20" stroke-width="3.13"/>
<circle cx="2488.0" cy="32.0" r="48.00" stroke-width="3.13"/>
<circle cx="2488.0" cy="32.0" r="53.80" stroke-width="3.13"/>
<circle cx="2488.0" cy="32.0" r="59.60" stroke-width="3.13"/>
<circle cx="2488.0" cy="32.0" r="65.40" stroke-width="3.13"/>
<circle cx="2488.0" cy="32.0" r="71.20" stroke-width="3.11"/>
<circle cx="2488.0" cy="32.0" r="76.96" stroke-width="3.00"/>
<circle cx="2488.0" cy="32.0" r="82.51" stroke-width="2.89"/>
<circle cx="2488.0" cy="32.0" r="87.86" stroke-width="2.79"/>
<circle cx="2488.0" cy="32.0" r="93.02" stroke-width="2.69"/>
<circle cx="2488.0" cy="32.0" r="98.00" stroke-width="2.59"/>
<circle cx="2488.0" cy="32.0" r="102.80" stroke-width="2.50"/>
<circle cx="2488.0" cy="32.0" r="107.43" stroke-width="2.41"/>
<circle cx="2488.0" cy="32.0" r="111.90" stroke-width="2.32"/>
<circle cx="2488.0" cy="32.0" r="116.20" stroke-width="2.24"/>
<circle cx="2488.0" cy="32.0" r="120.35" stroke-width="2.16"/>
<circle cx="2488.0" cy="32.0" r="124.35" stroke-width="2.08"/>
<circle cx="2488.0" cy="32.0" r="128.21" stroke-width="2.01"/>
<circle cx="2488.0" cy="32.0" r="131.93" stroke-width="1.94"/>
<circle cx="2488.0" cy="32.0" r="135.52" stroke-width="1.87"/>
<circle cx="2488.0" cy="32.0" r="138.98" stroke-width="1.80"/>
<circle cx="2488.0" cy="32.0" r="142.32" stroke-width="1.74"/>
<circle cx="2488.0" cy="32.0" r="145.54" stroke-width="1.70"/>
<circle cx="2488.0" cy="32.0" r="148.69" stroke-width="1.70"/>
<circle cx="2488.0" cy="32.0" r="151.84" stroke-width="1.70"/>
<circle cx="2488.0" cy="32.0" r="154.99" stroke-width="1.70"/>
<circle cx="2488.0" cy="32.0" r="158.14" stroke-width="1.70"/>
<circle cx="2488.0" cy="32.0" r="161.29" stroke-width="1.70"/>
<circle cx="2488.0" cy="32.0" r="164.44" stroke-width="1.70"/>
<circle cx="2488.0" cy="32.0" r="167.59" stroke-width="1.70"/>
<circle cx="2488.0" cy="32.0" r="170.74" stroke-width="1.70"/>
</g>
<g mask="url(#esae)" fill="none" stroke="rgb(66,122,192)" stroke-width="2.4">
<path d="M 2438,84.50 Q 2472,86.40 2506,86.50"/>
<path d="M 2438,89.10 Q 2472,90.08 2506,91.10"/>
<path d="M 2438,93.70 Q 2472,93.76 2506,95.70"/>
<path d="M 2438,98.30 Q 2472,97.44 2506,100.30"/>
<path d="M 2438,102.90 Q 2472,101.12 2506,104.90"/>
<path d="M 2438,107.50 Q 2472,104.80 2506,109.50"/>
<path d="M 2438,112.10 Q 2472,108.48 2506,114.10"/>
<path d="M 2438,110.70 Q 2472,112.16 2506,111.70"/>
<path d="M 2438,115.30 Q 2472,115.84 2506,116.30"/>
<path d="M 2438,119.90 Q 2472,119.52 2506,120.90"/>
<path d="M 2438,124.50 Q 2472,123.20 2506,125.50"/>
<path d="M 2438,129.10 Q 2472,126.88 2506,130.10"/>
<path d="M 2438,133.70 Q 2472,130.56 2506,134.70"/>
<path d="M 2438,138.30 Q 2472,134.24 2506,139.30"/>
<path d="M 2438,142.90 Q 2472,137.92 2506,143.90"/>
</g>
<text y="150.15" font-family='"Liberation Sans",sans-serif' font-weight="bold" font-size="160.9" fill="rgb(18,38,138)"><tspan x="2513.5" textLength="92.97" lengthAdjust="spacingAndGlyphs">e</tspan><tspan x="2604.4" textLength="83.85" lengthAdjust="spacingAndGlyphs">s</tspan><tspan x="2686.8" textLength="81.12" lengthAdjust="spacingAndGlyphs">a</tspan></text>
</svg>
</body></html>
